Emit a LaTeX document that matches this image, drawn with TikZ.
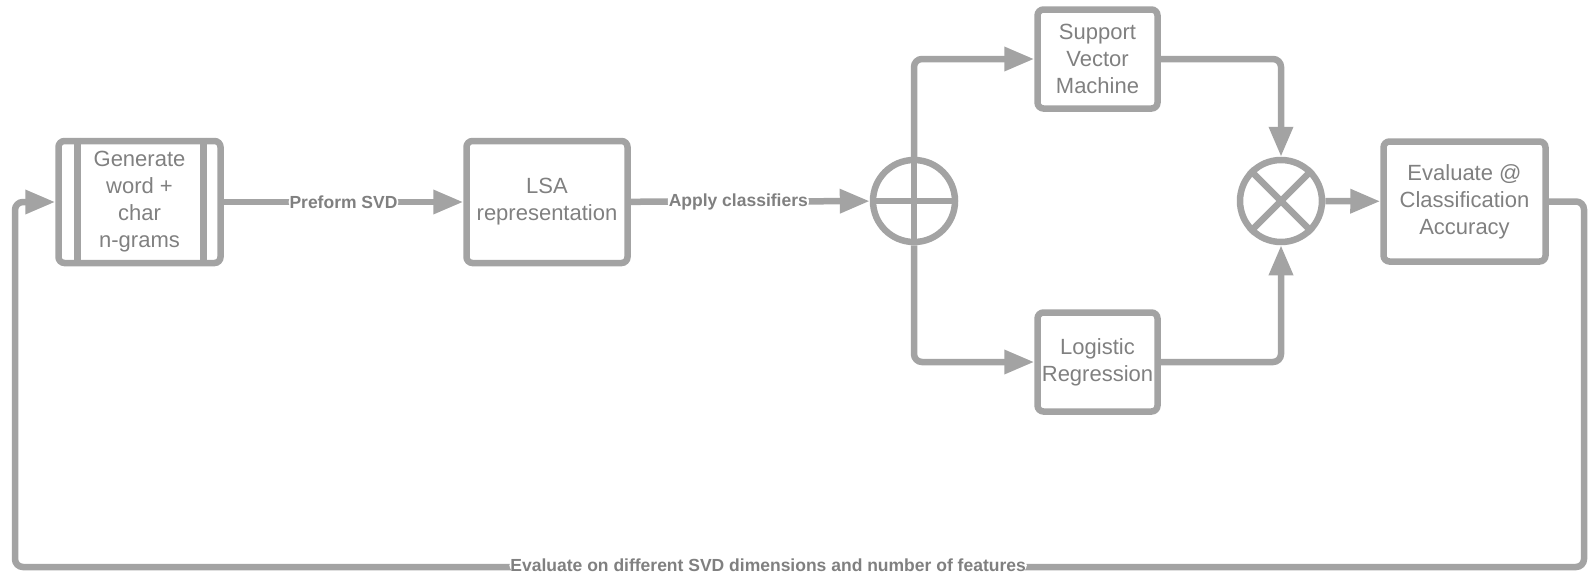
\documentclass[tikz,border=0pt]{standalone}
\usepackage{fontspec}
\setmainfont{Liberation Sans}
\usetikzlibrary{arrows.meta}
\definecolor{lnclr}{RGB}{163,163,163}
\definecolor{txclr}{RGB}{128,128,128}

\begin{document}
\begin{tikzpicture}[x=1pt, y=-1pt, line width=6.5pt,
  box/.style={draw=lnclr, rounded corners=6pt, align=center, text=txclr, inner sep=0pt,
              font=\fontsize{22}{27}\selectfont},
  cir/.style={circle, draw=lnclr, minimum size=82pt, inner sep=0pt},
  conn/.style={draw=lnclr, rounded corners=8pt, -{Triangle[length=30pt,width=23pt]}},
  lbl/.style={fill=white, inner sep=1pt, text=txclr, font=\bfseries\fontsize{17.5}{18}\selectfont},
]
  \useasboundingbox (0,0) rectangle (1589,573);

  \node[box, minimum width=162pt, minimum height=122pt] (gen) at (139.5,202)
        {Generate\\word +\\char\\n-grams};
  \draw[lnclr] ([xshift=-62pt]gen.north) -- ([xshift=-62pt]gen.south)
               ([xshift=64pt]gen.north) -- ([xshift=64pt]gen.south);
  \node[box, minimum width=161pt, minimum height=122pt] (lsa) at (547,202)
        {LSA\\representation};
  \node[cir] (op) at (914,201) {};
  \draw[lnclr] (op.north) -- (op.south) (op.west) -- (op.east);
  \node[box, minimum width=120pt, minimum height=99pt] (svm) at (1097.5,59)
        {Support\\Vector\\Machine};
  \node[box, minimum width=120pt, minimum height=99pt] (lr) at (1097.5,362)
        {Logistic\\Regression};
  \node[cir] (ot) at (1281,201) {};
  \draw[lnclr] (ot.45) -- (ot.225) (ot.135) -- (ot.315);
  \node[box, minimum width=162pt, minimum height=120pt] (eval) at (1464.5,201.5)
        {Evaluate @\\Classification\\Accuracy};

  \coordinate (loopR) at (1584,567);
  \coordinate (loopL) at (15,567);

  \draw[conn] (gen) -- node[lbl] {Preform SVD} (lsa);
  \draw[conn] (lsa) -- node[lbl, pos=0.45] {Apply classifiers} (op);
  \draw[conn] (op.north) |- (svm);
  \draw[conn] (op.south) |- (lr);
  \draw[conn] (svm) -| (ot.north);
  \draw[conn] (lr) -| (ot.south);
  \draw[conn] (ot) -- (eval);
  \draw[conn] (eval.east) -| (loopR)
        -- node[lbl, pos=0.52, yshift=1.5pt] {Evaluate on different SVD dimensions and number of features} (loopL)
        |- (gen);
\end{tikzpicture}
\end{document}
